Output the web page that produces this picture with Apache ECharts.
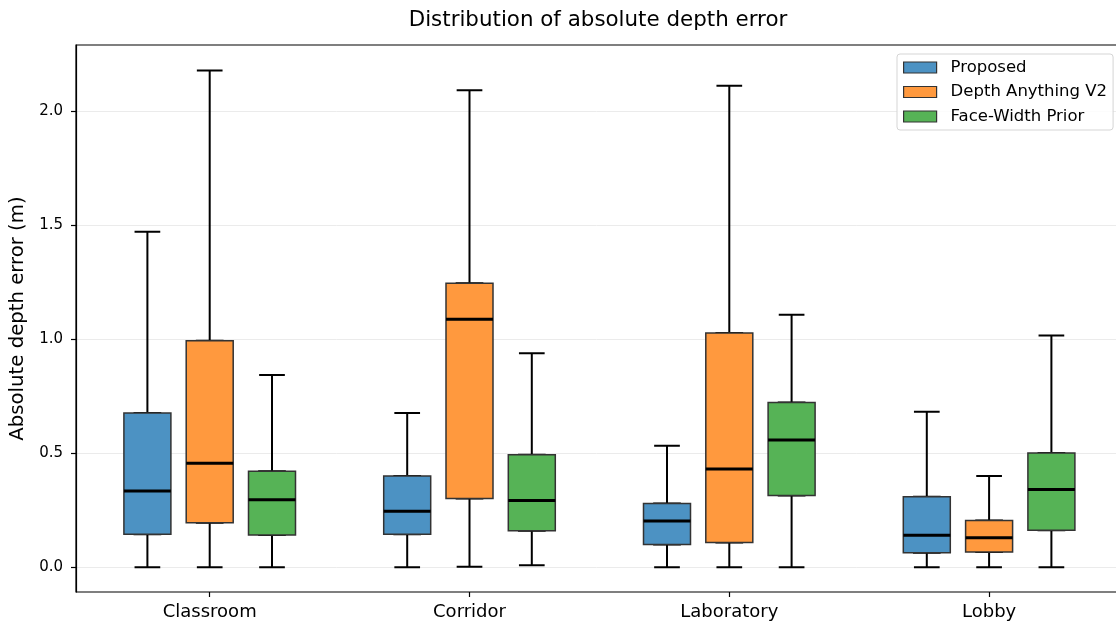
<!DOCTYPE html>
<html>
<head>
<meta charset="utf-8">
<script src="https://cdn.jsdelivr.net/npm/echarts@6/dist/echarts.min.js"></script>
<style>html,body{margin:0;padding:0;background:#fff}#c{width:1116px;height:623px}</style>
</head>
<body>
<div id="c"></div>
<script>
const categories = ['Classroom', 'Corridor', 'Laboratory', 'Lobby'];
const methods = ['Proposed', 'Depth Anything V2', 'Face-Width Prior'];
// each entry: [whisker low, Q1, median, Q3, whisker high]
const proposed = [[0, 0.144, 0.334, 0.676, 1.470], [0, 0.144, 0.245, 0.400, 0.676], [0, 0.099, 0.202, 0.279, 0.532], [0, 0.063, 0.140, 0.309, 0.681]];
const depthAnything = [[0, 0.195, 0.455, 0.993, 2.177], [0.002, 0.301, 1.087, 1.245, 2.091], [0, 0.108, 0.430, 1.026, 2.110], [0, 0.066, 0.129, 0.204, 0.400]];
const faceWidth = [[0, 0.141, 0.295, 0.420, 0.842], [0.008, 0.160, 0.292, 0.493, 0.938], [0, 0.314, 0.557, 0.722, 1.106], [0, 0.162, 0.340, 0.500, 1.016]];
const yTicks = [0, 0.5, 1.0, 1.5, 2.0];

const methodData = [proposed, depthAnything, faceWidth];
const fills = ['#4c92c3', '#ff993e', '#56b356'];
const FONT = 'DejaVu Sans';
const yMin = -0.109, yMax = 2.289;
const TOP = 45, BOTTOM = 31;
const band = 259.8, firstCenter = 209.7, step = 62.3;
const gridW = band * categories.length;

const gridBase = { top: TOP, bottom: BOTTOM, containLabel: false, outerBoundsMode: 'none' };
const grids = [
  Object.assign({ left: 76, right: -7, show: true, borderColor: '#000', borderWidth: 1.2, backgroundColor: 'transparent' }, gridBase),
  Object.assign({ left: firstCenter - band / 2, width: gridW }, gridBase)
];
const xAxes = [
  { gridIndex: 0, type: 'value', show: false, min: 0, max: 1 },
  { gridIndex: 1, type: 'category', data: categories, boundaryGap: true, position: 'bottom',
    axisLine: { show: false, onZero: false }, splitLine: { show: false },
    axisTick: { show: true, alignWithLabel: true, length: 5, lineStyle: { color: '#000', width: 1.2 } },
    axisLabel: { fontFamily: FONT, fontSize: 18, color: '#000', margin: 11 } }
];
const hiddenY = (g) => ({ gridIndex: g, type: 'value', min: yMin, max: yMax, show: false, splitLine: { show: false } });
const yAxes = [
  { gridIndex: 0, type: 'value', min: yMin, max: yMax,
    name: 'Absolute depth error (m)', nameLocation: 'middle', nameGap: 42,
    nameTextStyle: { fontFamily: FONT, fontSize: 19.7, color: '#000' },
    axisLine: { show: true, lineStyle: { color: '#000', width: 1.2 } },
    axisTick: { show: true, customValues: yTicks, length: 5, lineStyle: { color: '#000', width: 1.2 } },
    axisLabel: { customValues: yTicks, fontFamily: FONT, fontSize: 15, color: '#000', margin: 13, formatter: (v) => v.toFixed(1) },
    splitLine: { show: true, lineStyle: { color: '#ebebeb', width: 1 } } },
  hiddenY(1)
];
const series = [];
methods.forEach((m, s) => {
  const g = grids.length;
  grids.push(Object.assign({ left: firstCenter + (s - 1) * step - band / 2, width: gridW }, gridBase));
  yAxes.push(hiddenY(g));
  const d = methodData[s];
  const layers = [
    { data: d.map(r => r.slice()), w: 25.7, style: { color: 'transparent', borderColor: '#000', borderWidth: 2 } },
    { data: d.map(r => [r[1], r[1], r[2], r[3], r[3]]), w: 47, style: { color: fills[s], borderColor: '#333', borderWidth: 1.5 } },
    { data: d.map(r => [r[2], r[2], r[2], r[2], r[2]]), w: 47, style: { color: 'transparent', borderColor: '#000', borderWidth: 3 } }
  ];
  layers.forEach((L, l) => {
    const xi = xAxes.length;
    xAxes.push({ gridIndex: g, type: 'category', data: categories, show: false, boundaryGap: true, axisLine: { onZero: false } });
    series.push({
      type: 'boxplot', name: m, xAxisIndex: xi, yAxisIndex: g, data: L.data,
      boxWidth: [L.w, L.w], itemStyle: L.style, emphasis: { disabled: true }, z: 3 + l
    });
  });
});

const chart = echarts.init(document.getElementById('c'), null, { renderer: 'canvas' });
chart.setOption({
  animation: false,
  backgroundColor: '#fff',
  title: { text: 'Distribution of absolute depth error', left: 598, top: 10, textAlign: 'center', padding: 0,
    textStyle: { fontFamily: FONT, fontSize: 21.4, fontWeight: 'normal', color: '#000' } },
  legend: {
    orient: 'vertical', left: 897, top: 54, padding: [5, 6, 5, 6],
    itemWidth: 33, itemHeight: 11, itemGap: 7.5,
    borderColor: '#d5d5d5', borderWidth: 1, borderRadius: 3, backgroundColor: 'rgba(255,255,255,0.85)',
    textStyle: { fontFamily: FONT, fontSize: 16.5, color: '#000', lineHeight: 16, padding: [0, 0, 0, 9] },
    data: methods.map((m, s) => ({ name: m, icon: 'rect', itemStyle: { color: fills[s], borderColor: '#333', borderWidth: 1.2 } }))
  },
  grid: grids, xAxis: xAxes, yAxis: yAxes, series: series
});
</script>
</body>
</html>
